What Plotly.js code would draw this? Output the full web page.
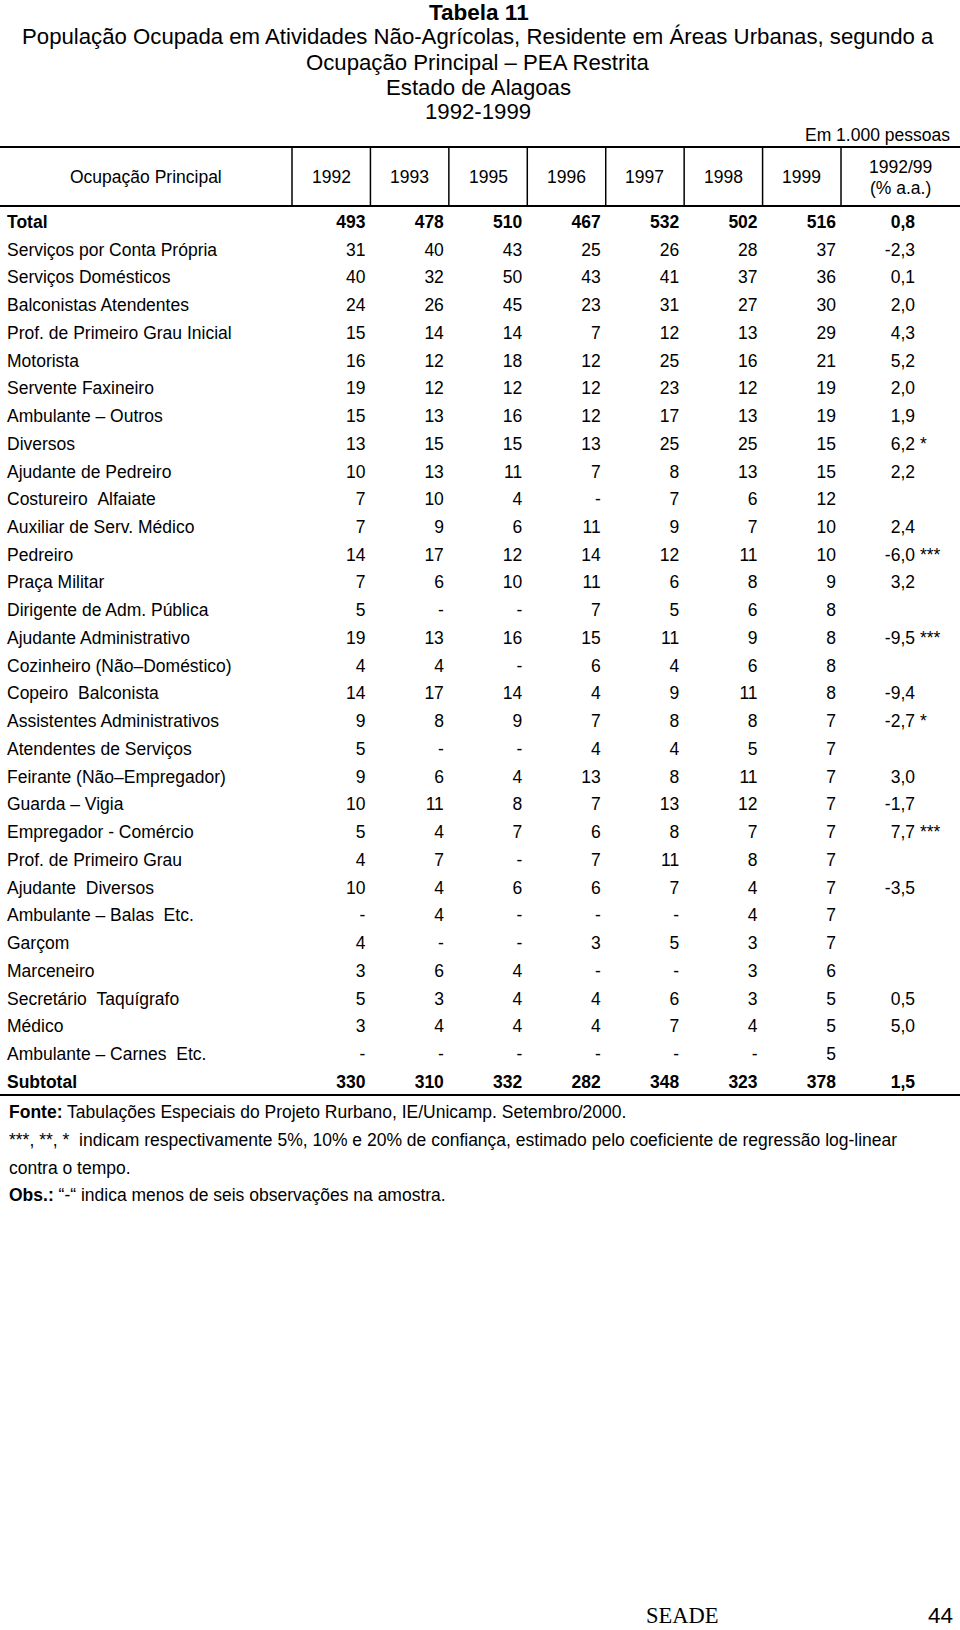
<!DOCTYPE html>
<html><head><meta charset="utf-8">
<script src="https://cdn.plot.ly/plotly-3.0.1.min.js"></script>
<style>html,body{margin:0;padding:0;background:#fff}</style>
</head><body><div id="chart" style="width:960px;height:1630px"></div>
<script>
// ---------------- data ----------------
const tableTitle = "Tabela 11";
const subtitleLines = [
  "População Ocupada em Atividades Não-Agrícolas, Residente em Áreas Urbanas, segundo a",
  "Ocupação Principal – PEA Restrita",
  "Estado de Alagoas",
  "1992-1999"
];
const unitNote = "Em 1.000 pessoas";
const firstHeader = "Ocupação Principal";
const years = ["1992", "1993", "1995", "1996", "1997", "1998", "1999"];
const pctHeader = ["1992/99", "(% a.a.)"];

const occupations = [
  "Serviços por Conta Própria", "Serviços Domésticos", "Balconistas Atendentes",
  "Prof. de Primeiro Grau Inicial", "Motorista", "Servente Faxineiro",
  "Ambulante – Outros", "Diversos", "Ajudante de Pedreiro",
  "Costureiro \u00a0Alfaiate", "Auxiliar de Serv. Médico", "Pedreiro",
  "Praça Militar", "Dirigente de Adm. Pública", "Ajudante Administrativo",
  "Cozinheiro (Não–Doméstico)", "Copeiro \u00a0Balconista", "Assistentes Administrativos",
  "Atendentes de Serviços", "Feirante (Não–Empregador)", "Guarda – Vigia",
  "Empregador - Comércio", "Prof. de Primeiro Grau", "Ajudante \u00a0Diversos",
  "Ambulante – Balas \u00a0Etc.", "Garçom", "Marceneiro",
  "Secretário \u00a0Taquígrafo", "Médico", "Ambulante – Carnes \u00a0Etc."
];
// null = "-" (menos de seis observações)
const v1992 = [31, 40, 24, 15, 16, 19, 15, 13, 10, 7, 7, 14, 7, 5, 19, 4, 14, 9, 5, 9, 10, 5, 4, 10, null, 4, 3, 5, 3, null];
const v1993 = [40, 32, 26, 14, 12, 12, 13, 15, 13, 10, 9, 17, 6, null, 13, 4, 17, 8, null, 6, 11, 4, 7, 4, 4, null, 6, 3, 4, null];
const v1995 = [43, 50, 45, 14, 18, 12, 16, 15, 11, 4, 6, 12, 10, null, 16, null, 14, 9, null, 4, 8, 7, null, 6, null, null, 4, 4, 4, null];
const v1996 = [25, 43, 23, 7, 12, 12, 12, 13, 7, null, 11, 14, 11, 7, 15, 6, 4, 7, 4, 13, 7, 6, 7, 6, null, 3, null, 4, 4, null];
const v1997 = [26, 41, 31, 12, 25, 23, 17, 25, 8, 7, 9, 12, 6, 5, 11, 4, 9, 8, 4, 8, 13, 8, 11, 7, null, 5, null, 6, 7, null];
const v1998 = [28, 37, 27, 13, 16, 12, 13, 25, 13, 6, 7, 11, 8, 6, 9, 6, 11, 8, 5, 11, 12, 7, 8, 4, 4, 3, 3, 3, 4, null];
const v1999 = [37, 36, 30, 29, 21, 19, 19, 15, 15, 12, 10, 10, 9, 8, 8, 8, 8, 7, 7, 7, 7, 7, 7, 7, 7, 7, 6, 5, 5, 5];
const pctGrowth = [-2.3, 0.1, 2.0, 4.3, 5.2, 2.0, 1.9, 6.2, 2.2, null, 2.4, -6.0, 3.2, null, -9.5, null, -9.4, -2.7, null, 3.0, -1.7, 7.7, null, -3.5, null, null, null, 0.5, 5.0, null];
const significance = ["", "", "", "", "", "", "", "*", "", "", "", "***", "", "", "***", "", "", "*", "", "", "", "***", "", "", "", "", "", "", "", ""];

const totalLabel = "Total";
const totalValues = [493, 478, 510, 467, 532, 502, 516];
const totalPct = 0.8;
const subtotalLabel = "Subtotal";
const subtotalValues = [330, 310, 332, 282, 348, 323, 378];
const subtotalPct = 1.5;

const sourceNote = "<b>Fonte:</b> Tabulações Especiais do Projeto Rurbano, IE/Unicamp. Setembro/2000.";
const sigNotes = [
  "***, **, * \u00a0indicam respectivamente 5%, 10% e 20% de confiança, estimado pelo coeficiente de regressão log-linear",
  "contra o tempo."
];
const obsNote = "<b>Obs.:</b> “-“ indica menos de seis observações na amostra.";
const footerLeft = "SEADE";
const footerRight = "44";

// ---------------- layout helpers ----------------
const W = 960, H = 1630;
const FONT = "Liberation Sans, Arial, sans-serif";
const BODY = 17.5;
const row0 = 223.5, rowStep = 27.74;          // pixel centre of row 0 and spacing
const colLeft = 292, colW = 78.43;            // year column boundaries
const pctRight = 915, starLeft = 920;
const yearCols = [v1992, v1993, v1995, v1996, v1997, v1998, v1999];

const px = x => x / W;
const py = y => 1 - y / H;
const fmtVal = v => (v === null ? "-" : String(v));
const fmtPct = v => (v === null ? "" : v.toFixed(1).replace(".", ","));
const rowIdx = [];
for (let i = 0; i < occupations.length + 2; i++) rowIdx.push(i);

const traces = [];
// labels
traces.push({
  type: "scatter", mode: "text", x: rowIdx.map(() => 7), y: rowIdx,
  text: ["<b>" + totalLabel + "</b>"].concat(occupations, ["<b>" + subtotalLabel + "</b>"]),
  textposition: "middle right", textfont: {family: FONT, size: BODY, color: "#000"},
  marker: {size: 0}, hoverinfo: "skip", cliponaxis: false, showlegend: false
});
// year columns
yearCols.forEach((col, k) => {
  const xr = colLeft + colW * (k + 1) - 5;
  traces.push({
    type: "scatter", mode: "text", x: rowIdx.map(() => xr), y: rowIdx,
    text: ["<b>" + totalValues[k] + "</b>"].concat(col.map(fmtVal), ["<b>" + subtotalValues[k] + "</b>"]),
    textposition: "middle left", textfont: {family: FONT, size: BODY, color: "#000"},
    marker: {size: 0}, hoverinfo: "skip", cliponaxis: false, showlegend: false
  });
});
// growth column
traces.push({
  type: "scatter", mode: "text", x: rowIdx.map(() => pctRight), y: rowIdx,
  text: ["<b>" + fmtPct(totalPct) + "</b>"].concat(pctGrowth.map(fmtPct), ["<b>" + fmtPct(subtotalPct) + "</b>"]),
  textposition: "middle left", textfont: {family: FONT, size: BODY, color: "#000"},
  marker: {size: 0}, hoverinfo: "skip", cliponaxis: false, showlegend: false
});
traces.push({
  type: "scatter", mode: "text", x: rowIdx.map(() => starLeft), y: rowIdx,
  text: [""].concat(significance, [""]),
  textposition: "middle right", textfont: {family: FONT, size: BODY, color: "#000"},
  marker: {size: 0}, hoverinfo: "skip", cliponaxis: false, showlegend: false
});

const annotations = [];
function ann(text, x, y, size, xanchor, extra) {
  annotations.push(Object.assign({
    text: text, xref: "paper", yref: "paper", x: px(x), y: py(y),
    xanchor: xanchor, yanchor: "middle", showarrow: false,
    font: {family: FONT, size: size, color: "#000"}
  }, extra || {}));
}
ann("<b>" + tableTitle + "</b>", 479, 13, 22.5, "center");
const titleY = [37, 62, 87, 111];
subtitleLines.forEach((t, i) => ann(t, 478, titleY[i], 22.2, "center"));
ann(unitNote, 952, 135, BODY, "right");
ann(firstHeader, 146, 177, BODY, "center");
years.forEach((yr, k) => ann(yr, colLeft + colW * (k + 0.5), 177, BODY, "center"));
ann(pctHeader[0], 900, 167, BODY, "center");
ann(pctHeader[1], 900, 188, BODY, "center");
ann(sourceNote, 7, 1112, BODY, "left");
ann(sigNotes[0], 7, 1140, BODY, "left");
ann(sigNotes[1], 7, 1168, BODY, "left");
ann(obsNote, 7, 1195, BODY, "left");
ann(footerLeft, 682, 1615, 22.5, "center", {font: {family: "Liberation Serif, Times New Roman, serif", size: 22.5, color: "#000"}});
ann(footerRight, 940, 1615, 22.5, "center");

const shapes = [];
function hline(y, x0, x1, w) {
  shapes.push({type: "line", xref: "paper", yref: "paper", x0: px(x0), x1: px(x1), y0: py(y), y1: py(y), line: {color: "#000", width: w}});
}
function vline(x, y0, y1, w) {
  shapes.push({type: "line", xref: "paper", yref: "paper", x0: px(x), x1: px(x), y0: py(y0), y1: py(y1), line: {color: "#000", width: w}});
}
hline(147, 0, 960, 2);
hline(206, 0, 960, 2);
hline(1095, 0, 960, 2);
for (let k = 0; k <= years.length; k++) vline(colLeft + colW * k, 147, 206, 1.5);

const layout = {
  width: W, height: H, autosize: false,
  margin: {l: 0, r: 0, t: 0, b: 0, pad: 0},
  paper_bgcolor: "#fff", plot_bgcolor: "#fff",
  xaxis: {range: [0, W], visible: false, fixedrange: true},
  yaxis: {range: [(H - row0) / rowStep, -row0 / rowStep], visible: false, fixedrange: true},
  showlegend: false, annotations: annotations, shapes: shapes
};
Plotly.newPlot("chart", traces, layout, {staticPlot: true, displayModeBar: false});
</script>
</body></html>
